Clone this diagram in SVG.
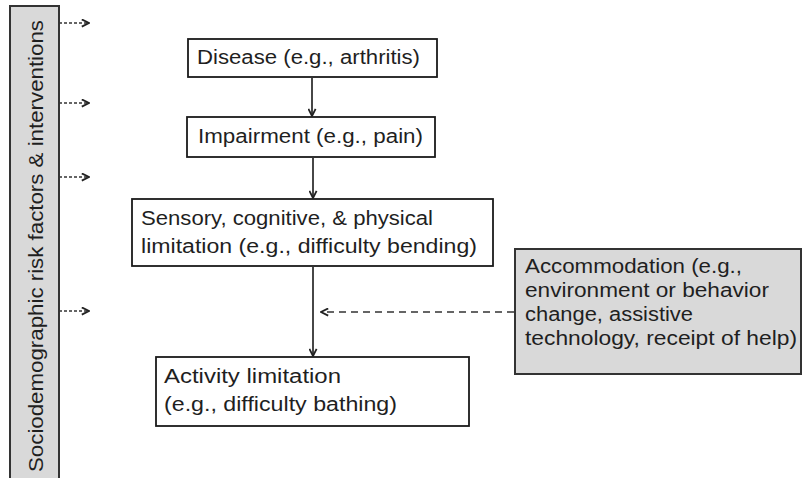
<svg xmlns="http://www.w3.org/2000/svg" width="803" height="478" viewBox="0 0 803 478">
<style>
.box{fill:#ffffff;stroke:#1a1a1a;stroke-width:1.8}
.gbox{fill:#d9d9d9;stroke:#333333;stroke-width:2}
.t{font-family:"Liberation Sans",Arial,sans-serif;font-size:19.5px;fill:#1f1f1f}
.solid{stroke:#333333;stroke-width:1.8;fill:none}
.dash{stroke:#333333;stroke-width:1.5;fill:none;stroke-dasharray:7 5}
.dshort{stroke:#333333;stroke-width:1.5;fill:none;stroke-dasharray:3 2}
</style>
<defs>
<marker id="ah" viewBox="0 0 10 10" refX="9" refY="5" markerWidth="9" markerHeight="9" markerUnits="userSpaceOnUse" orient="auto">
<path d="M1,1 L9,5 L1,9" fill="none" stroke="#222222" stroke-width="2"/>
</marker>
</defs>
<rect width="803" height="478" fill="#ffffff"/>
<g id="risk-factors">
<rect class="gbox" x="10" y="6" width="49" height="480"/>
<text class="t" transform="translate(43,472) rotate(-90)" textLength="452" lengthAdjust="spacingAndGlyphs">Sociodemographic risk factors &amp; interventions</text>
</g>
<g id="disease">
<rect class="box" x="188" y="39" width="249" height="38"/>
<text class="t" x="197" y="64" textLength="223" lengthAdjust="spacingAndGlyphs">Disease (e.g., arthritis)</text>
</g>
<g id="impairment">
<rect class="box" x="187" y="117" width="248" height="40"/>
<text class="t" x="198" y="143" textLength="225" lengthAdjust="spacingAndGlyphs">Impairment (e.g., pain)</text>
</g>
<g id="limitation">
<rect class="box" x="132" y="199" width="361" height="67"/>
<text class="t" x="141" y="225" textLength="292" lengthAdjust="spacingAndGlyphs">Sensory, cognitive, &amp; physical</text>
<text class="t" x="141" y="253" textLength="336" lengthAdjust="spacingAndGlyphs">limitation (e.g., difficulty bending)</text>
</g>
<g id="activity">
<rect class="box" x="156" y="357" width="313" height="69"/>
<text class="t" x="164" y="383" textLength="177" lengthAdjust="spacingAndGlyphs">Activity limitation</text>
<text class="t" x="164" y="411" textLength="233" lengthAdjust="spacingAndGlyphs">(e.g., difficulty bathing)</text>
</g>
<g id="accommodation">
<rect class="gbox" x="515" y="249" width="286" height="125"/>
<text class="t" x="525" y="273" textLength="217" lengthAdjust="spacingAndGlyphs">Accommodation (e.g.,</text>
<text class="t" x="525" y="297" textLength="244" lengthAdjust="spacingAndGlyphs">environment or behavior</text>
<text class="t" x="525" y="321" textLength="168" lengthAdjust="spacingAndGlyphs">change, assistive</text>
<text class="t" x="525" y="345" textLength="272" lengthAdjust="spacingAndGlyphs">technology, receipt of help)</text>
</g>
<g id="connectors">
<line class="solid" x1="312" y1="77" x2="312" y2="116" marker-end="url(#ah)"/>
<line class="solid" x1="313" y1="157" x2="313" y2="198" marker-end="url(#ah)"/>
<line class="solid" x1="313" y1="266" x2="313" y2="356" marker-end="url(#ah)"/>
<line class="dash" x1="514" y1="312" x2="321" y2="312" marker-end="url(#ah)"/>
<line class="dshort" x1="59" y1="23" x2="89" y2="23" marker-end="url(#ah)"/>
<line class="dshort" x1="59" y1="103" x2="89" y2="103" marker-end="url(#ah)"/>
<line class="dshort" x1="59" y1="177" x2="89" y2="177" marker-end="url(#ah)"/>
<line class="dshort" x1="59" y1="311" x2="89" y2="311" marker-end="url(#ah)"/>
</g>
</svg>
